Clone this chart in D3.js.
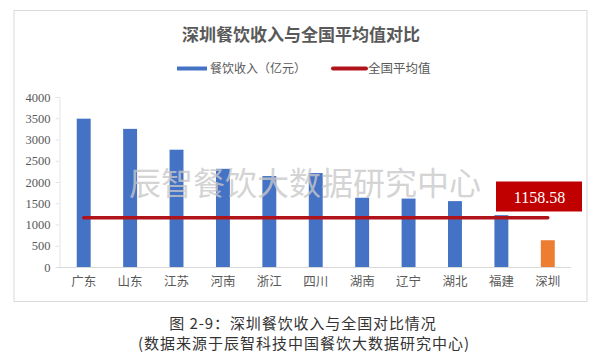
<!DOCTYPE html>
<html>
<head>
<meta charset="utf-8">
<script src="https://cdn.jsdelivr.net/npm/d3@7"></script>
<style>
  body { margin: 0; background: #fff; }
</style>
</head>
<body>
<script>
	// 数据
	var provinces = ["广东", "山东", "江苏", "河南", "浙江", "四川", "湖南", "辽宁", "湖北", "福建", "深圳"];
	var revenue = [3490, 3250, 2760, 2310, 2140, 2210, 1630, 1610, 1550, 1220, 630];
	var nationalAvg = 1158.58;
	var yTicks = [0, 500, 1000, 1500, 2000, 2500, 3000, 3500, 4000];

	var serif = "'Liberation Serif', 'Noto Sans CJK SC', serif";
	var sans = "'Noto Sans CJK SC', sans-serif";

	var svg = d3.select("body").append("svg")
		.attr("width", 600)
		.attr("height", 352)

	// 外框
	svg.append("rect")
		.attr("x", 14)
		.attr("y", 10.5)
		.attr("width", 573)
		.attr("height", 291)
		.attr("fill", "#fff")
		.attr("stroke", "#d9d9d9")

	svg.append("text")
		.attr("x", 301)
		.attr("y", 33)
		.attr("text-anchor", "middle")
		.attr("dominant-baseline", "central")
		.style("font-family", sans)
		.style("font-size", "17px")
		.style("font-weight", "bold")
		.attr("fill", "#595959")
		.text("深圳餐饮收入与全国平均值对比");

	// 图例
	var legend = svg.append("g")
	legend.append("rect")
		.attr("x", 177).attr("y", 66.5)
		.attr("width", 30).attr("height", 4)
		.attr("fill", "#4472c4");
	legend.append("text")
		.attr("x", 210).attr("y", 68.5)
		.attr("dominant-baseline", "central")
		.style("font-family", serif)
		.style("font-size", "12px")
		.attr("fill", "#595959")
		.text("餐饮收入（亿元）");
	legend.append("line")
		.attr("x1", 333).attr("x2", 366)
		.attr("y1", 68.5).attr("y2", 68.5)
		.attr("stroke", "#b0141a")
		.attr("stroke-width", 4)
		.attr("stroke-linecap", "round");
	legend.append("text")
		.attr("x", 368).attr("y", 68.5)
		.attr("dominant-baseline", "central")
		.style("font-family", serif)
		.style("font-size", "12.5px")
		.attr("fill", "#595959")
		.text("全国平均值");

	var xScale = d3.scaleBand()
		.domain(provinces)
		.range([60.5, 571])
		.paddingInner(0.7)
		.paddingOuter(0.35)

	var yScale = d3.scaleLinear()
		.domain([0, 4000])
		.range([267, 97])

	// y轴
	var yAxis = svg.append("g")
		.attr("transform", "translate(59.5,0)")
		.call(d3.axisLeft(yScale).tickValues(yTicks).tickFormat(d3.format("d")).tickSize(4).tickPadding(5))
	yAxis.select(".domain").attr("stroke", "#e4e4e4")
	yAxis.selectAll(".tick line").attr("stroke", "#e4e4e4")
	yAxis.selectAll("text")
		.style("font-family", serif)
		.style("font-size", "12.5px")
		.attr("fill", "#595959")

	// x轴
	var xAxis = svg.append("g")
		.attr("transform", "translate(0,267.5)")
		.call(d3.axisBottom(xScale).tickSize(0).tickPadding(10))
	xAxis.select(".domain").attr("stroke", "#d9d9d9").attr("d", "M58,0H571")
	xAxis.selectAll("text")
		.style("font-family", serif)
		.style("font-size", "12.5px")
		.attr("fill", "#595959")

	svg.selectAll(".bar")
		.data(provinces)
		.enter()
		.append("rect")
		.attr("class", "bar")
		.attr("x", d => xScale(d))
		.attr("width", xScale.bandwidth())
		.attr("y", (d, i) => yScale(revenue[i]))
		.attr("height", (d, i) => yScale(0) - yScale(revenue[i]))
		.attr("fill", d => d == "深圳" ? "#ed7d31" : "#4472c4")

	// 全国平均值
	var cx = d => xScale(d) + xScale.bandwidth() / 2;
	svg.append("line")
		.attr("x1", cx(provinces[0]))
		.attr("x2", cx(provinces[provinces.length - 1]))
		.attr("y1", yScale(nationalAvg))
		.attr("y2", yScale(nationalAvg))
		.attr("stroke", "#b0141a")
		.attr("stroke-width", 3.5)
		.attr("stroke-linecap", "round")

	svg.append("rect")
		.attr("x", 496)
		.attr("y", 181.5)
		.attr("width", 86)
		.attr("height", 30)
		.attr("fill", "#c00000")
	svg.append("text")
		.attr("x", 539.5)
		.attr("y", 197)
		.attr("text-anchor", "middle")
		.attr("dominant-baseline", "central")
		.style("font-family", serif)
		.style("font-size", "16px")
		.attr("fill", "#fff")
		.text(d3.format(".2f")(nationalAvg))

	// 水印
	svg.append("text")
		.attr("x", 129)
		.attr("y", 181)
		.attr("dominant-baseline", "central")
		.style("font-family", sans)
		.style("font-size", "32px")
		.attr("fill", "#c8c8c8")
		.attr("fill-opacity", 0.8)
		.text("辰智餐饮大数据研究中心")

	// 图注
	svg.append("text")
		.attr("x", 303)
		.attr("y", 322)
		.attr("text-anchor", "middle")
		.attr("dominant-baseline", "central")
		.style("font-family", sans)
		.style("font-size", "15px")
		.style("letter-spacing", "0.9px")
		.attr("fill", "#333")
		.text("图 2-9：深圳餐饮收入与全国对比情况")
	svg.append("text")
		.attr("x", 304)
		.attr("y", 342)
		.attr("text-anchor", "middle")
		.attr("dominant-baseline", "central")
		.style("font-family", sans)
		.style("font-size", "15px")
		.style("letter-spacing", "1px")
		.attr("fill", "#333")
		.text("(数据来源于辰智科技中国餐饮大数据研究中心)")
</script>
</body>
</html>
